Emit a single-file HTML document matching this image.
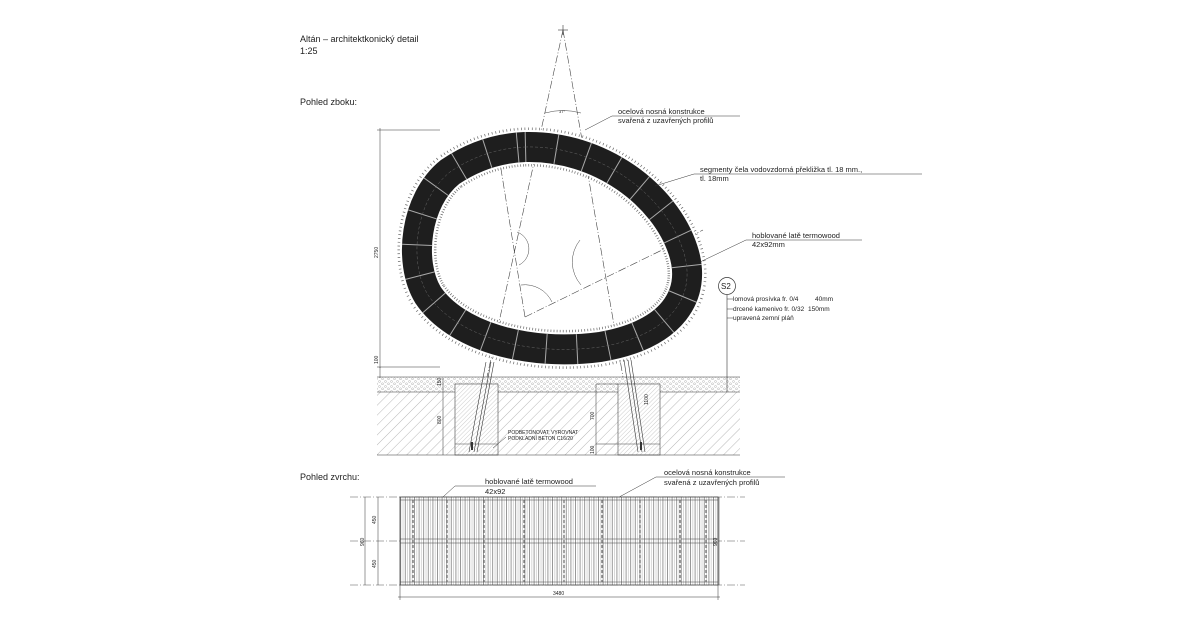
<!DOCTYPE html>
<html><head><meta charset="utf-8"><style>
html,body{margin:0;padding:0;background:#fff;}
svg{display:block;}
text{font-family:"Liberation Sans",sans-serif;fill:#222;}
</style></head><body>
<svg width="1200" height="642" viewBox="0 0 1200 642" xmlns="http://www.w3.org/2000/svg">
<defs>
<pattern id="hatch" width="7" height="7" patternUnits="userSpaceOnUse" patternTransform="rotate(45)">
<line x1="0" y1="0" x2="0" y2="7" stroke="#888" stroke-width="0.6"/></pattern>
<pattern id="hatch2" width="3" height="3" patternUnits="userSpaceOnUse" patternTransform="rotate(45)">
<line x1="0" y1="0" x2="0" y2="3" stroke="#999" stroke-width="0.5"/></pattern>
<pattern id="grav" width="6" height="5" patternUnits="userSpaceOnUse">
<circle cx="1.5" cy="1.5" r="1" fill="none" stroke="#999" stroke-width="0.4"/><circle cx="4.5" cy="3.8" r="1" fill="none" stroke="#999" stroke-width="0.4"/></pattern>
<pattern id="slat" width="4.6" height="10" patternUnits="userSpaceOnUse">
<line x1="0.5" y1="0" x2="0.5" y2="10" stroke="#555" stroke-width="0.6"/><line x1="2.8" y1="0" x2="2.8" y2="10" stroke="#999" stroke-width="0.4"/></pattern>
</defs>
<g font-size="9">
<text x="300" y="42">Altán  –  architektkonický  detail</text>
<text x="300" y="54">1:25</text>
<text x="300" y="105">Pohled  zboku:</text>
<text x="300" y="480">Pohled  zvrchu:</text>
</g>
<g stroke="#444" stroke-width="0.6" stroke-dasharray="8 2 1 2" fill="none">
<line x1="563" y1="30" x2="487" y2="377"/>
<line x1="563" y1="30" x2="623" y2="377"/>
<line x1="525" y1="317" x2="500" y2="163"/>
<line x1="525" y1="317" x2="703" y2="230"/>
</g>
<line x1="558" y1="30" x2="568" y2="30" stroke="#333" stroke-width="0.6"/>
<line x1="563" y1="25" x2="563" y2="35" stroke="#333" stroke-width="0.6"/>
<path d="M545 113 Q563 108 581 113" stroke="#444" fill="none" stroke-width="0.5"/>
<text x="559" y="113" font-size="4">37°</text>
<path d="M517 232 A18 18 0 0 1 519 265" stroke="#444" fill="none" stroke-width="0.5"/>
<path d="M580 240 A35 35 0 0 0 581 285" stroke="#444" fill="none" stroke-width="0.5"/>
<path d="M521 285 A30 30 0 0 1 552 302" stroke="#444" fill="none" stroke-width="0.5"/>
<g fill="none">
<path d="M525 147 C600 145,665 195,683 250 C698 295,672 335,600 347 C525 357,455 335,428 295 C408 262,415 200,450 172 C475 155,500 148,525 147 Z" stroke="#666" stroke-width="39" stroke-dasharray="0.7 2.6"/>
<path d="M525 147 C600 145,665 195,683 250 C698 295,672 335,600 347 C525 357,455 335,428 295 C408 262,415 200,450 172 C475 155,500 148,525 147 Z" stroke="#fff" stroke-width="34"/>
<path d="M525 147 C600 145,665 195,683 250 C698 295,672 335,600 347 C525 357,455 335,428 295 C408 262,415 200,450 172 C475 155,500 148,525 147 Z" stroke="#1e1e1e" stroke-width="30"/>
<path d="M525 147 C600 145,665 195,683 250 C698 295,672 335,600 347 C525 357,455 335,428 295 C408 262,415 200,450 172 C475 155,500 148,525 147 Z" stroke="#aaa" stroke-width="30" stroke-dasharray="1 30"/>
<path d="M525 147 C600 145,665 195,683 250 C698 295,672 335,600 347 C525 357,455 335,428 295 C408 262,415 200,450 172 C475 155,500 148,525 147 Z" stroke="#666" stroke-width="0.5" stroke-dasharray="3 2"/>
</g>
<rect x="377" y="377" width="363" height="15" fill="url(#grav)"/>
<rect x="377" y="392" width="363" height="63" fill="url(#hatch)"/>
<rect x="455" y="384" width="43" height="71" fill="#fff" stroke="#444" stroke-width="0.6"/>
<rect x="455" y="384" width="43" height="71" fill="url(#hatch2)"/>
<rect x="618" y="384" width="42" height="71" fill="#fff" stroke="#444" stroke-width="0.6"/>
<rect x="618" y="384" width="42" height="71" fill="url(#hatch2)"/>
<line x1="455" y1="444" x2="498" y2="444" stroke="#444" stroke-width="0.5"/>
<line x1="618" y1="444" x2="660" y2="444" stroke="#444" stroke-width="0.5"/>
<g stroke="#333" stroke-width="0.6">
<line x1="486" y1="362" x2="469" y2="452"/><line x1="491" y1="362" x2="474" y2="452"/>
<line x1="494" y1="362" x2="477" y2="452"/>
<line x1="624" y1="360" x2="638" y2="452"/><line x1="628" y1="360" x2="642" y2="452"/>
<line x1="631" y1="360" x2="645" y2="452"/>
</g>
<g stroke="#333" stroke-width="0.6">
<line x1="377" y1="377" x2="740" y2="377"/><line x1="377" y1="392" x2="455" y2="392"/><line x1="498" y1="392" x2="618" y2="392"/><line x1="660" y1="392" x2="740" y2="392"/>
<line x1="377" y1="455" x2="740" y2="455"/>
<line x1="472" y1="442" x2="472" y2="450" stroke-width="2"/><line x1="641" y1="442" x2="641" y2="450" stroke-width="2"/>
<line x1="727" y1="295" x2="727" y2="392"/>
</g>
<g stroke="#333" stroke-width="0.5">
<line x1="380" y1="128" x2="380" y2="368"/><line x1="377" y1="130" x2="440" y2="130"/>
<line x1="377" y1="367" x2="440" y2="367"/><line x1="380" y1="367" x2="380" y2="378"/>
<line x1="443" y1="378" x2="443" y2="455"/><line x1="596" y1="384" x2="596" y2="455"/>
<line x1="596" y1="384" x2="618" y2="384"/><line x1="596" y1="444" x2="618" y2="444"/>
</g>
<g font-size="5">
<text transform="translate(378,258) rotate(-90)">2750</text>
<text transform="translate(378,364) rotate(-90)">100</text>
<text transform="translate(441,424) rotate(-90)">800</text>
<text transform="translate(441,386) rotate(-90)">150</text>
<text transform="translate(594,420) rotate(-90)">700</text>
<text transform="translate(594,454) rotate(-90)">100</text>
<text transform="translate(648,405) rotate(-90)">1100</text>
<text x="508" y="434">PODBETONOVAT, VYROVNAT</text>
<text x="508" y="440">PODKLADNÍ BETON C16/20</text>
</g>
<line x1="506" y1="437" x2="493" y2="448" stroke="#333" stroke-width="0.5"/>
<g font-size="7.5">
<text x="618" y="114">ocelová  nosná  konstrukce</text>
<text x="618" y="123">svařená  z  uzavřených  profilů</text>
<text x="700" y="172">segmenty  čela  vodovzdorná  překližka  tl.  18  mm.,</text>
<text x="700" y="181">tl.  18mm</text>
<text x="752" y="238">hoblované  latě  termowood</text>
<text x="752" y="247">42x92mm</text>
<text x="485" y="484">hoblované  latě  termowood</text>
<text x="485" y="494">42x92</text>
<text x="664" y="475">ocelová  nosná  konstrukce</text>
<text x="664" y="485">svařená  z  uzavřených  profilů</text>
</g>
<g stroke="#333" stroke-width="0.5" fill="none">
<polyline points="585,130 612,116 740,116"/>
<polyline points="655,186 694,174 922,174"/>
<polyline points="700,262 746,240 862,240"/>
<polyline points="433,506 455,486 596,486"/>
<polyline points="610,502 656,477 785,477"/>
<circle cx="727" cy="286" r="8.5" stroke-width="0.7"/>
<line x1="727" y1="299" x2="733" y2="299"/><line x1="727" y1="309" x2="733" y2="309"/><line x1="727" y1="318" x2="733" y2="318"/>
</g>
<text x="721" y="289" font-size="8">S2</text>
<g font-size="6.5">
<text x="733" y="301">lomová prosívka fr. 0/4</text><text x="815" y="301">40mm</text>
<text x="733" y="311">drcené kamenivo fr. 0/32</text><text x="808" y="311">150mm</text>
<text x="733" y="320">upravená zemní pláň</text>
</g>
<g stroke="#555" stroke-width="0.6" stroke-dasharray="8 2 1 2">
<line x1="350" y1="497" x2="745" y2="497"/><line x1="350" y1="541" x2="745" y2="541"/><line x1="350" y1="585" x2="745" y2="585"/>
</g>
<rect x="400" y="497" width="318" height="88" fill="#fff"/>
<rect x="400" y="497" width="318" height="88" fill="url(#slat)" stroke="#444" stroke-width="0.8"/>
<g stroke="#444" stroke-width="0.5">
<line x1="400" y1="500" x2="718" y2="500"/><line x1="400" y1="582" x2="718" y2="582"/>
<line x1="400" y1="539" x2="718" y2="539"/><line x1="400" y1="543" x2="718" y2="543"/>
</g>
<g stroke="#666" stroke-width="1.2" stroke-dasharray="3 2">
<line x1="413" y1="500" x2="413" y2="582"/><line x1="447" y1="500" x2="447" y2="582"/><line x1="484" y1="500" x2="484" y2="582"/>
<line x1="524" y1="500" x2="524" y2="582"/><line x1="564" y1="500" x2="564" y2="582"/><line x1="602" y1="500" x2="602" y2="582"/>
<line x1="640" y1="500" x2="640" y2="582"/><line x1="680" y1="500" x2="680" y2="582"/><line x1="706" y1="500" x2="706" y2="582"/>
</g>
<g stroke="#333" stroke-width="0.5">
<line x1="365" y1="497" x2="365" y2="585"/><line x1="378" y1="497" x2="378" y2="585"/>
<line x1="719" y1="497" x2="719" y2="585"/>
<line x1="400" y1="585" x2="400" y2="600"/><line x1="718" y1="585" x2="718" y2="600"/>
<line x1="398" y1="597" x2="720" y2="597"/>
</g>
<g font-size="5">
<text transform="translate(364,546) rotate(-90)">960</text>
<text transform="translate(376,524) rotate(-90)">450</text>
<text transform="translate(376,568) rotate(-90)">450</text>
<text transform="translate(717,546) rotate(-90)">960</text>
<text x="553" y="595">3480</text>
</g>
</svg>
</body></html>
